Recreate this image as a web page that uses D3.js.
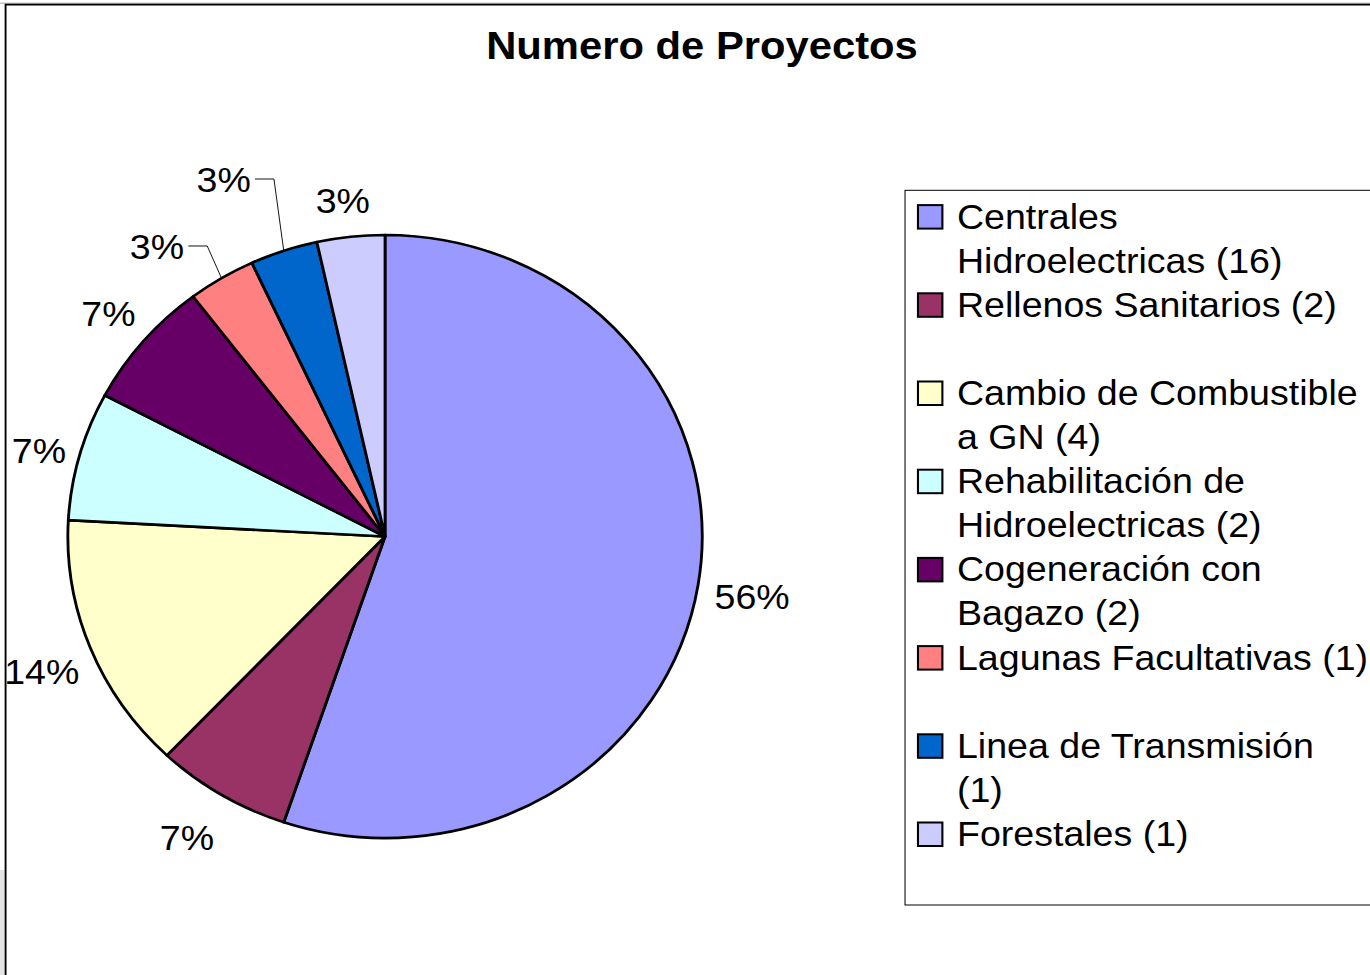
<!DOCTYPE html>
<html>
<head>
<meta charset="utf-8">
<script src="https://cdn.jsdelivr.net/npm/d3@7"></script>
<style>
  html, body { margin: 0; padding: 0; background: #fff; }
  svg { display: block; }
  text { font-family: "Liberation Sans", Arial, sans-serif; fill: #000; }
</style>
</head>
<body>
<svg id="chart" width="1370" height="975"></svg>
<script>
// ---- data ----
const chartTitle = "Numero de Proyectos";
const categories = [
  "Centrales Hidroelectricas (16)",
  "Rellenos Sanitarios (2)",
  "Cambio de Combustible a GN (4)",
  "Rehabilitación de Hidroelectricas (2)",
  "Cogeneración con Bagazo (2)",
  "Lagunas Facultativas (1)",
  "Linea de Transmisión (1)",
  "Forestales (1)"
];
const legendLines = [
  ["Centrales", "Hidroelectricas (16)"],
  ["Rellenos Sanitarios (2)"],
  ["Cambio de Combustible", "a GN (4)"],
  ["Rehabilitación de", "Hidroelectricas (2)"],
  ["Cogeneración con", "Bagazo (2)"],
  ["Lagunas Facultativas (1)"],
  ["Linea de Transmisión", "(1)"],
  ["Forestales (1)"]
];
const values = [16, 2, 4, 2, 2, 1, 1, 1];
const percentLabels = ["56%", "7%", "14%", "7%", "7%", "3%", "3%", "3%"];
const colors = ["#9999FF", "#993366", "#FFFFCC", "#CCFFFF", "#660066", "#FF8080", "#0066CC", "#CCCCFF"];

// ---- layout (not data) ----
const sx = 1.052;                       // horizontal stretch of the original picture
const W = 1370 / sx, H = 975;
const cx = 366, cy = 536.5, R = 301.5;
const fontSize = 35.7;
// label distance beyond the rim and angular nudge (degrees)
const labelGap =   [52.5, 53.5, 51.5, 38.5, 43.5, 61, 87.5, 37.5];
const labelNudge = [0.4, 1, -0.7, -0.9, 0, -5.7, -4.6, -0.6];
const hasLeader =  [false, false, false, false, false, true, true, false];

const svg = d3.select("#chart")
  .attr("viewBox", `0 0 ${W} ${H}`)
  .attr("preserveAspectRatio", "none");

// chart area border
svg.append("rect")
  .attr("x", -2).attr("y", 3.2).attr("width", W + 10).attr("height", H + 10)
  .attr("fill", "none").attr("stroke", "#aaa").attr("stroke-width", 1);
svg.append("rect")
  .attr("x", 0).attr("y", 870).attr("width", 4).attr("height", 105)
  .attr("fill", "#e4e4e4");
svg.append("rect")
  .attr("x", 5.3).attr("y", 4.6).attr("width", W + 10).attr("height", H + 10)
  .attr("fill", "#fff").attr("stroke", "#000").attr("stroke-width", 1.8);

// title
svg.append("text")
  .attr("x", 667.3).attr("y", 59)
  .attr("text-anchor", "middle")
  .attr("font-weight", "bold")
  .attr("font-size", 39.7)
  .text(chartTitle);

// pie
const pie = d3.pie().sort(null).value(d => d).startAngle(0).endAngle(2 * Math.PI);
const arcs = pie(values);
const arc = d3.arc().innerRadius(0).outerRadius(R);

const g = svg.append("g").attr("transform", `translate(${cx},${cy})`);
g.selectAll("path.slice")
  .data(arcs)
  .join("path")
  .attr("class", "slice")
  .attr("d", arc)
  .attr("fill", (d, i) => colors[i])
  .attr("stroke", "#000")
  .attr("stroke-width", 2.7)
  .attr("stroke-linejoin", "round");

// labels
const deg = Math.PI / 180;
const labelPos = arcs.map((d, i) => {
  const a = (d.startAngle + d.endAngle) / 2 + labelNudge[i] * deg;
  const rr = R + labelGap[i];
  return [Math.sin(a) * rr, -Math.cos(a) * rr];
});

const labels = g.selectAll("text.pct")
  .data(arcs)
  .join("text")
  .attr("class", "pct")
  .attr("x", (d, i) => labelPos[i][0])
  .attr("y", (d, i) => labelPos[i][1])
  .attr("dy", "0.358em")
  .attr("text-anchor", "middle")
  .attr("font-size", fontSize)
  .text((d, i) => percentLabels[i]);

// leader lines
const line = d3.line();
labels.each(function(d, i) {
  if (!hasLeader[i]) return;
  const bb = this.getBBox();
  const [lx, ly] = labelPos[i];
  const x0 = bb.x + bb.width + 4;
  const x1 = x0 + 18;
  const mid = (d.startAngle + d.endAngle) / 2;
  const edge = [Math.sin(mid) * R, -Math.cos(mid) * R];
  g.append("path")
    .attr("d", line([[x0, ly], [x1, ly], edge]))
    .attr("fill", "none")
    .attr("stroke", "#000")
    .attr("stroke-width", 0.9);
});

// legend
const legendX = 860.3, legendY = 190.3;
svg.append("rect")
  .attr("x", legendX).attr("y", legendY)
  .attr("width", W - legendX + 20).attr("height", 905 - legendY)
  .attr("fill", "#fff").attr("stroke", "#000").attr("stroke-width", 1);

const slot = 88.2, lineH = 44.1, firstBase = 228.6;
const lg = svg.append("g");
const items = lg.selectAll("g.item")
  .data(categories)
  .join("g")
  .attr("class", "item")
  .attr("transform", (d, i) => `translate(0,${firstBase + i * slot})`);

items.append("rect")
  .attr("x", 872.6).attr("y", -23.5)
  .attr("width", 23.2).attr("height", 23.5)
  .attr("fill", (d, i) => colors[i])
  .attr("stroke", "#000").attr("stroke-width", 2);

items.each(function(d, i) {
  const t = d3.select(this).append("text")
    .attr("font-size", fontSize)
    .attr("x", 909.7).attr("y", 0);
  legendLines[i].forEach((ln, j) => {
    t.append("tspan").attr("x", 909.7).attr("y", j * lineH).text(ln);
  });
});
</script>
</body>
</html>
